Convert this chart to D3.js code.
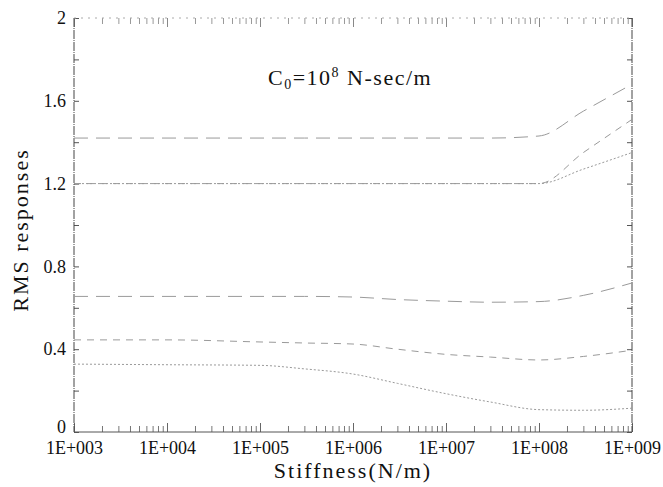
<!DOCTYPE html>
<html>
<head>
<meta charset="utf-8">
<script src="https://cdn.jsdelivr.net/npm/d3@7"></script>
<style>
  body { margin: 0; background: #fff; }
  svg { display: block; }
  .tick text { font-family: "Liberation Serif", "Times New Roman", serif; }
</style>
</head>
<body>
<div id="chart"></div>
<script>
// stiffness values (N/m) where the curves were read
const stiffness = [1e3, 1e4, 1e5, 3e5, 1e6, 3e6, 1e7, 3e7, 1e8, 3e8, 1e9];

// RMS responses
const upperLong   = [1.42, 1.42, 1.42, 1.42, 1.42, 1.42, 1.42, 1.42, 1.43, 1.55, 1.68];
const upperMedium = [1.20, 1.20, 1.20, 1.20, 1.20, 1.20, 1.20, 1.20, 1.20, 1.35, 1.51];
const upperDotted = [1.20, 1.20, 1.20, 1.20, 1.20, 1.20, 1.20, 1.20, 1.20, 1.27, 1.35];
const middleLong  = [0.655, 0.655, 0.655, 0.655, 0.652, 0.64, 0.632, 0.627, 0.63, 0.66, 0.72];
const lowerMedium = [0.445, 0.445, 0.435, 0.43, 0.425, 0.40, 0.375, 0.362, 0.348, 0.365, 0.395];
const lowerDotted = [0.328, 0.325, 0.322, 0.305, 0.28, 0.235, 0.185, 0.145, 0.108, 0.105, 0.115];

const xMajorTicks = [1e3, 1e4, 1e5, 1e6, 1e7, 1e8, 1e9];
const yMajorTicks = [0, 0.4, 0.8, 1.2, 1.6, 2];
const yMinorTicks = [0.2, 0.6, 1.0, 1.4, 1.8];

const series = [
    { values: upperLong,   dash: "14,8" },
    { values: upperMedium, dash: "7,6" },
    { values: upperDotted, dash: "2,2" },
    { values: middleLong,  dash: "14,8" },
    { values: lowerMedium, dash: "7,6" },
    { values: lowerDotted, dash: "2,2" }
];

const width = 663, height = 487;
const margin = { top: 18, right: 31, bottom: 55, left: 74 };

const x = d3.scaleLog()
    .domain([1e3, 1e9])
    .range([margin.left, width - margin.right]);

const y = d3.scaleLinear()
    .domain([0, 2])
    .range([height - margin.bottom, margin.top]);

const svg = d3.select("#chart").append("svg")
    .attr("width", width)
    .attr("height", height);

// minor ticks of the log axis: 2..9 in each decade
const xMinorTicks = [];
for (let e = 3; e < 9; e++) {
    for (let m = 2; m <= 9; m++) xMinorTicks.push(m * Math.pow(10, e));
}

const fmtX = d => "1E+" + String(Math.round(Math.log10(d))).padStart(3, "0");

// bottom axis
const xAxis = svg.append("g")
    .attr("transform", `translate(0,${y(0)})`)
    .call(d3.axisBottom(x).tickValues(xMajorTicks).tickSize(-9).tickPadding(9).tickFormat(fmtX));
xAxis.select(".domain").remove();
xAxis.selectAll(".tick text").style("font-size", "18px").attr("fill", "#111");
xAxis.selectAll(".tick line").attr("stroke", "#666");

const xMinor = svg.append("g")
    .attr("transform", `translate(0,${y(0)})`)
    .call(d3.axisBottom(x).tickValues(xMinorTicks).tickSize(-6).tickFormat(""));
xMinor.select(".domain").remove();
xMinor.selectAll(".tick line").attr("stroke", "#777");

// top axis, ticks only
const xTop = svg.append("g")
    .attr("transform", `translate(0,${y(2)})`)
    .call(d3.axisTop(x).tickValues(xMajorTicks).tickSize(-9).tickFormat(""));
xTop.select(".domain").remove();
xTop.selectAll(".tick line").attr("stroke", "#888");

const xTopMinor = svg.append("g")
    .attr("transform", `translate(0,${y(2)})`)
    .call(d3.axisTop(x).tickValues(xMinorTicks).tickSize(-6).tickFormat(""));
xTopMinor.select(".domain").remove();
xTopMinor.selectAll(".tick line").attr("stroke", "#999");

// left axis
const yAxis = svg.append("g")
    .attr("transform", `translate(${x(1e3)},0)`)
    .call(d3.axisLeft(y).tickValues(yMajorTicks).tickSize(-5).tickPadding(8)
        .tickFormat(d => String(+d.toFixed(1))));
yAxis.select(".domain").remove();
yAxis.selectAll(".tick text").style("font-size", "18px").attr("fill", "#111");
yAxis.selectAll(".tick text").filter(d => d === 0).attr("dy", "0.05em");
yAxis.selectAll(".tick line").attr("stroke", "#555");

const yMinor = svg.append("g")
    .attr("transform", `translate(${x(1e3)},0)`)
    .call(d3.axisLeft(y).tickValues(yMinorTicks).tickSize(-5).tickFormat(""));
yMinor.select(".domain").remove();
yMinor.selectAll(".tick line").attr("stroke", "#555");

// right axis, ticks only
const yRight = svg.append("g")
    .attr("transform", `translate(${x(1e9)},0)`)
    .call(d3.axisRight(y).tickValues(yMajorTicks.concat(yMinorTicks)).tickSize(-5).tickFormat(""));
yRight.select(".domain").remove();
yRight.selectAll(".tick line").attr("stroke", "#555");

// frame
const x0 = x(1e3), x1 = x(1e9), y0 = y(0), y1 = y(2);
svg.append("line").attr("x1", x0).attr("x2", x0).attr("y1", y1).attr("y2", y0)
    .attr("stroke", "#444").attr("stroke-dasharray", "9,1,1,1");
svg.append("line").attr("x1", x1).attr("x2", x1).attr("y1", y1).attr("y2", y0)
    .attr("stroke", "#444").attr("stroke-dasharray", "9,1,1,1");
svg.append("line").attr("x1", x0).attr("x2", x1).attr("y1", y0).attr("y2", y0)
    .attr("stroke", "#555");
svg.append("line").attr("x1", x0).attr("x2", x1).attr("y1", y1).attr("y2", y1)
    .attr("stroke", "#aaa").attr("stroke-dasharray", "2,5");

// curves
const line = d3.line()
    .x((d, i) => x(stiffness[i]))
    .y(d => y(d))
    .curve(d3.curveMonotoneX);

svg.append("g")
    .selectAll("path")
    .data(series)
    .enter().append("path")
      .attr("fill", "none")
      .attr("stroke", "#9a9a9a")
      .attr("stroke-width", 1)
      .attr("stroke-dasharray", d => d.dash)
      .attr("d", d => line(d.values));

// annotation C0 = 10^8 N-sec/m
const note = svg.append("text")
    .attr("x", 268)
    .attr("y", 85)
    .style("font-family", "\"Liberation Serif\", serif")
    .style("font-size", "22px")
    .style("letter-spacing", "1.5px")
    .attr("fill", "#111");
note.append("tspan").text("C");
note.append("tspan").attr("dy", 4).style("font-size", "14px").text("0");
note.append("tspan").attr("dy", -4).text("=10");
note.append("tspan").attr("dy", -8).style("font-size", "14px").text("8");
note.append("tspan").attr("dy", 8).text(" N-sec/m");

// axis titles
svg.append("text")
    .attr("x", (x0 + x1) / 2)
    .attr("y", 478)
    .attr("text-anchor", "middle")
    .style("font-family", "\"Liberation Serif\", serif")
    .style("font-size", "22px")
    .style("letter-spacing", "2px")
    .attr("fill", "#111")
    .text("Stiffness(N/m)");

svg.append("text")
    .attr("transform", "translate(28,230) rotate(-90)")
    .attr("text-anchor", "middle")
    .style("font-family", "\"Liberation Serif\", serif")
    .style("font-size", "22px")
    .style("letter-spacing", "2px")
    .attr("fill", "#111")
    .text("RMS responses");
</script>
</body>
</html>
